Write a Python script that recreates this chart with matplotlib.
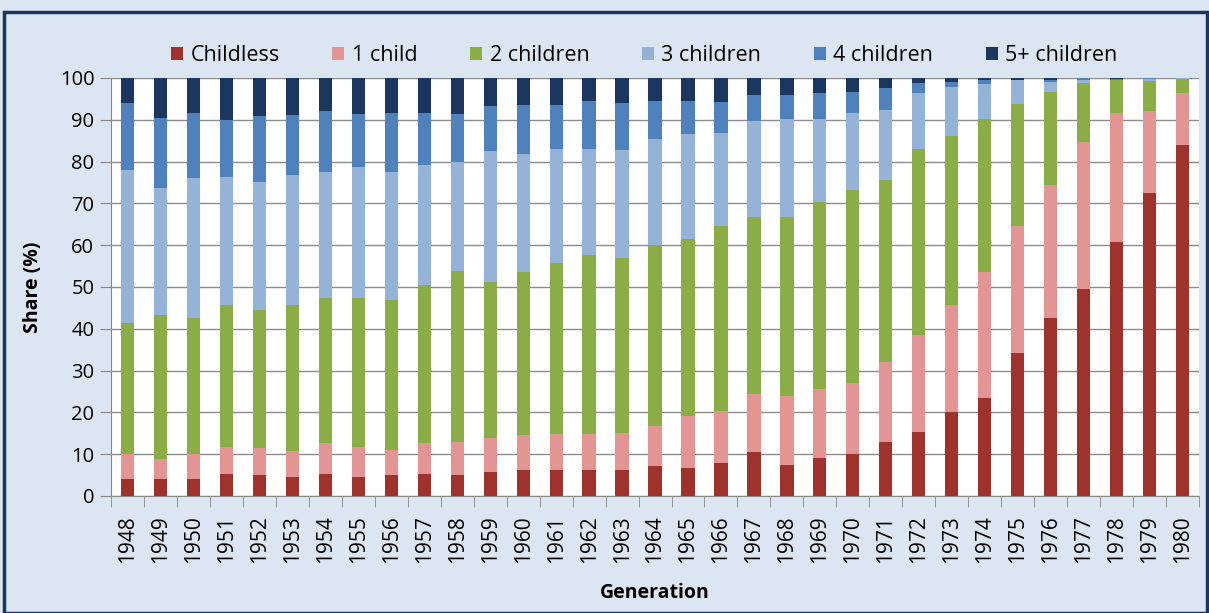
import matplotlib
matplotlib.use("Agg")
import matplotlib.pyplot as plt
import matplotlib.patches as patches
import numpy as np

plt.rcParams['font.family'] = ['Open Sans', 'DejaVu Sans']

years = list(range(1948, 1981))

# shares in % per generation
childless = [4.0, 4.0, 4.0, 5.2, 5.0, 4.6, 5.2, 4.6, 5.0, 5.2, 5.0, 5.8, 6.2, 6.2, 6.2, 6.2,
             7.2, 6.8, 7.8, 10.6, 7.4, 9.0, 10.0, 12.8, 15.4, 20.0, 23.4, 34.1, 42.5, 49.4,
             60.7, 72.6, 83.9]
one_child = [6.0, 4.8, 6.0, 6.6, 6.5, 6.2, 7.4, 7.0, 6.1, 7.4, 7.8, 8.0, 8.4, 8.6, 8.6, 8.8,
             9.6, 12.4, 12.6, 13.8, 16.4, 16.6, 17.0, 19.3, 23.2, 25.7, 30.3, 30.4, 31.8, 35.3,
             31.0, 19.5, 12.5]
two_children = [31.3, 34.5, 32.5, 33.9, 33.1, 34.9, 34.7, 35.8, 35.9, 37.9, 41.0, 37.5, 39.1,
                40.9, 42.9, 41.9, 43.3, 42.3, 44.1, 42.3, 42.9, 44.7, 46.2, 43.4, 44.5, 40.4,
                36.6, 29.3, 22.4, 14.1, 7.7, 7.2, 3.4]
three_children = [36.6, 30.4, 33.6, 30.7, 30.5, 31.0, 30.2, 31.4, 30.6, 28.8, 26.2, 31.2, 28.0,
                  27.2, 25.2, 25.9, 25.2, 25.0, 22.4, 23.0, 23.6, 20.0, 18.4, 16.9, 13.3, 11.7,
                  8.3, 5.6, 2.3, 0.8, 0.2, 0.5, 0.1]
four_children = [16.2, 16.8, 15.5, 13.6, 15.7, 14.4, 14.6, 12.5, 14.0, 12.3, 11.5, 10.7, 11.8,
                 10.6, 11.5, 11.1, 9.1, 7.9, 7.3, 6.2, 5.6, 6.1, 5.0, 5.1, 2.4, 1.3, 0.8, 0.2,
                 0.6, 0.3, 0.1, 0.1, 0.1]
five_plus = [5.9, 9.5, 8.4, 10.0, 9.2, 8.9, 7.9, 8.7, 8.4, 8.4, 8.5, 6.8, 6.5, 6.5, 5.6, 6.1,
             5.6, 5.6, 5.8, 4.1, 4.1, 3.6, 3.4, 2.5, 1.2, 0.9, 0.6, 0.4, 0.4, 0.1, 0.3, 0.1, 0.0]

series = [childless, one_child, two_children, three_children, four_children, five_plus]
labels = ['Childless', '1 child', '2 children', '3 children', '4 children', '5+ children']
colors = ['#A0322E', '#E39593', '#8AAE45', '#95B3D7', '#4F81BD', '#1B365F']

fig = plt.figure(figsize=(12.09, 6.13), dpi=100)
fig.patch.set_facecolor('#DCE6F2')
ax = fig.add_axes([0.0918, 0.1909, 0.900, 0.6819])
ax.set_facecolor('white')

x = np.arange(len(years))
bottom = np.zeros(len(years))
for vals, lab, col in zip(series, labels, colors):
    ax.bar(x, vals, width=0.40, bottom=bottom, color=col, label=lab, zorder=3)
    bottom = bottom + np.array(vals)

ax.set_xlim(-0.5, len(years) - 0.5)
ax.set_ylim(0, 100)
ax.set_yticks(range(0, 101, 10))
ax.tick_params(axis='y', labelsize=14.5, length=8, pad=4, color='#888888')
ax.set_xticks(x)
ax.set_xticklabels([str(y) for y in years], rotation=90, fontsize=15)
ax.tick_params(axis='x', length=0, pad=14)
ax.set_xticks(np.arange(-0.5, len(years), 1), minor=True)
ax.tick_params(axis='x', which='minor', length=8, color='#888888')
ax.grid(axis='y', color='#8c8c8c', linewidth=1, zorder=0)

for s in ['top', 'right']:
    ax.spines[s].set_visible(False)
ax.spines['left'].set_color('#888888')
ax.spines['bottom'].set_color('#888888')

ax.set_ylabel('Share (%)', fontsize=14, fontweight='bold', labelpad=12)
ax.set_xlabel('Generation', fontsize=14, fontweight='bold', labelpad=14)

fig.legend(loc='center', bbox_to_anchor=(0.533, 0.91), ncol=6, frameon=False,
           fontsize=15.5, handlelength=0.55, handleheight=0.55, handletextpad=0.35,
           columnspacing=2.45)

# dark frame around the chart
fig.patches.append(patches.Rectangle((4 / 1209, 0.0), 1203 / 1209, (613 - 12) / 613,
                                     transform=fig.transFigure, fill=False,
                                     edgecolor='#1B365F', linewidth=2.5))

fig.savefig('out.png', dpi=100, facecolor=fig.get_facecolor())
